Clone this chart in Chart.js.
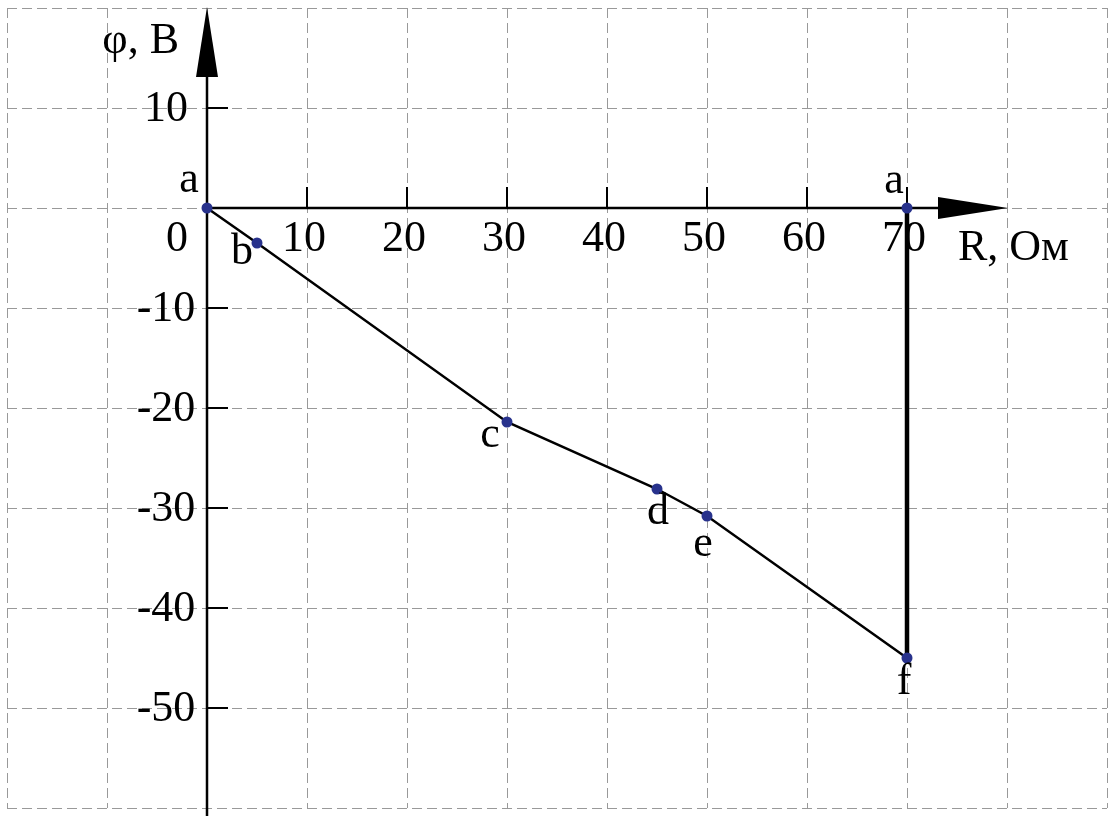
<!DOCTYPE html>
<html>
<head>
<meta charset="utf-8">
<title>φ(R)</title>
<script src="https://cdn.jsdelivr.net/npm/chart.js@4/dist/chart.umd.min.js"></script>
<style>
    html, body { margin: 0; padding: 0; background: #fff; }
    canvas { display: block; }
</style>
</head>
<body>
<canvas id="potentialChart" width="1119" height="816"></canvas>
<script>
// Potential diagram: points along the circuit and the closing jump back to a
const pointNames = ['a', 'b', 'c', 'd', 'e', 'f'];
const resistance = [0, 5, 30, 45, 50, 70];
const potential = [0, -3.5, -21.4, -28.1, -30.8, -45];

// closing segment f -> a at R = 70
const closingNames = ['', 'a'];
const closingR = [70, 70];
const closingPhi = [-45, 0];

const xTicks = [10, 20, 30, 40, 50, 60, 70];
const yTicks = [10, -10, -20, -30, -40, -50];
const originLabel = '0';
const xTitle = 'R, Ом';
const yTitle = 'φ, В';

const FONT = '44px "Liberation Serif", "Times New Roman", serif';
const DOT = '#28328c';

// label offsets (px) relative to each marker
const nameOffsets = [
    [[-18, -25], [-15, 12], [-17, 16], [1, 26], [-4, 31], [-3, 27]],
    [[0, 0], [-13, -24]]
];

function toPoints(xs, ys) {
    return xs.map((x, i) => ({ x: x, y: ys[i] }));
}

const axesPlugin = {
    id: 'axesPlugin',
    beforeDatasetsDraw(chart) {
        const ctx = chart.ctx;
        const xs = chart.scales.x;
        const ys = chart.scales.y;
        const x0 = xs.getPixelForValue(0);
        const y0 = ys.getPixelForValue(0);
        const yTip = ys.getPixelForValue(20) - 1;
        const xTip = xs.getPixelForValue(80) + 1;
        const head = 70, half = 11, tick = 21;

        ctx.save();
        ctx.strokeStyle = '#000';
        ctx.fillStyle = '#000';
        ctx.lineWidth = 2.5;

        // vertical axis
        ctx.beginPath();
        ctx.moveTo(x0, chart.height);
        ctx.lineTo(x0, yTip + head);
        ctx.stroke();
        ctx.beginPath();
        ctx.moveTo(x0, yTip);
        ctx.lineTo(x0 - half, yTip + head);
        ctx.lineTo(x0 + half, yTip + head);
        ctx.closePath();
        ctx.fill();

        // horizontal axis
        ctx.beginPath();
        ctx.moveTo(x0, y0);
        ctx.lineTo(xTip - head, y0);
        ctx.stroke();
        ctx.beginPath();
        ctx.moveTo(xTip, y0);
        ctx.lineTo(xTip - head, y0 - half);
        ctx.lineTo(xTip - head, y0 + half);
        ctx.closePath();
        ctx.fill();

        // tick marks
        ctx.lineWidth = 2;
        ctx.beginPath();
        xTicks.forEach(v => {
            const px = xs.getPixelForValue(v);
            ctx.moveTo(px, y0);
            ctx.lineTo(px, y0 - tick);
        });
        yTicks.forEach(v => {
            const py = ys.getPixelForValue(v);
            ctx.moveTo(x0, py);
            ctx.lineTo(x0 + tick, py);
        });
        ctx.stroke();

        // tick labels
        ctx.font = FONT;
        ctx.textAlign = 'center';
        ctx.textBaseline = 'alphabetic';
        xTicks.forEach(v => {
            ctx.fillText(String(v), xs.getPixelForValue(v) - 3, y0 + 43);
        });
        ctx.fillText(originLabel, x0 - 30, y0 + 43);
        ctx.textBaseline = 'middle';
        yTicks.forEach(v => {
            ctx.fillText(String(v), x0 - 41, ys.getPixelForValue(v) + 1);
        });

        // axis titles
        ctx.textBaseline = 'alphabetic';
        ctx.textAlign = 'right';
        ctx.fillText(yTitle, x0 - 28, 53);
        ctx.textAlign = 'left';
        ctx.fillText(xTitle, xTip - 50, y0 + 52);
        ctx.restore();
    },
    afterDatasetsDraw(chart) {
        const ctx = chart.ctx;
        const names = [pointNames, closingNames];
        ctx.save();
        ctx.font = FONT;
        ctx.fillStyle = '#000';
        ctx.textAlign = 'center';
        ctx.textBaseline = 'middle';
        names.forEach((list, d) => {
            const meta = chart.getDatasetMeta(d);
            meta.data.forEach((pt, i) => {
                if (!list[i]) return;
                const off = nameOffsets[d][i];
                ctx.fillText(list[i], pt.x + off[0], pt.y + off[1] - 3);
            });
        });
        ctx.restore();
    }
};

window.addEventListener('DOMContentLoaded', () => {
    const ctx = document.getElementById('potentialChart').getContext('2d');
    new Chart(ctx, {
        type: 'scatter',
        data: {
            datasets: [{
                label: 'φ',
                data: toPoints(resistance, potential),
                showLine: true,
                borderColor: '#000',
                borderWidth: 2.5,
                pointRadius: 5.5,
                pointBackgroundColor: DOT,
                pointBorderWidth: 0,
                order: 0
            }, {
                label: 'f-a',
                data: toPoints(closingR, closingPhi),
                showLine: true,
                borderColor: '#000',
                borderWidth: 4.5,
                pointRadius: [0, 5.5],
                pointBackgroundColor: DOT,
                pointBorderWidth: 0,
                order: 1
            }]
        },
        options: {
            responsive: false,
            animation: false,
            layout: {
                padding: { left: 7, right: 12, top: 8, bottom: 8 }
            },
            plugins: {
                legend: { display: false },
                tooltip: { enabled: false }
            },
            scales: {
                x: {
                    type: 'linear',
                    min: -20,
                    max: 90,
                    ticks: { display: false, stepSize: 10 },
                    grid: { color: '#999', lineWidth: 1, drawTicks: false },
                    border: { display: false, dash: [10, 5] }
                },
                y: {
                    type: 'linear',
                    min: -60,
                    max: 20,
                    ticks: { display: false, stepSize: 10 },
                    grid: { color: '#999', lineWidth: 1, drawTicks: false },
                    border: { display: false, dash: [10, 5] }
                }
            }
        },
        plugins: [axesPlugin]
    });
});
</script>
</body>
</html>
